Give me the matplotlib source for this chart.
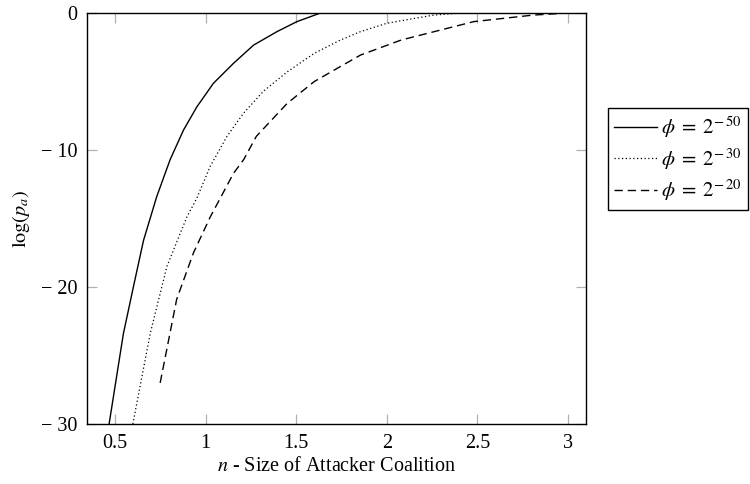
import matplotlib
matplotlib.use("Agg")
import matplotlib.pyplot as plt

plt.rcParams['font.family'] = ['Liberation Serif', 'DejaVu Serif']
plt.rcParams['mathtext.fontset'] = 'stix'

# phi = 2^-50
n_50 = [0.467, 0.546, 0.601, 0.657, 0.73, 0.804, 0.878, 0.952, 1.043, 1.154, 1.265,
        1.394, 1.504, 1.634, 1.70]
p_50 = [-30.0, -23.4, -20.0, -16.6, -13.4, -10.7, -8.54, -6.84, -5.13, -3.67, -2.34,
        -1.36, -0.63, 0.0, 0.3]

# phi = 2^-30
n_30 = [0.598, 0.694, 0.786, 0.896, 0.952, 1.025, 1.118, 1.21, 1.32, 1.45, 1.60,
        1.745, 1.855, 2.0, 2.26, 2.41, 2.5]
p_30 = [-30.0, -23.4, -18.5, -14.9, -13.5, -11.2, -9.0, -7.3, -5.7, -4.3, -2.94,
        -1.97, -1.36, -0.75, -0.15, 0.0, 0.1]

# phi = 2^-20
n_20 = [0.749, 0.84, 0.933, 1.025, 1.154, 1.21, 1.28, 1.45, 1.60, 1.745, 1.855,
        2.08, 2.48, 2.81, 3.0, 3.1]
p_20 = [-27.0, -20.9, -17.5, -14.9, -11.7, -10.7, -9.0, -6.6, -5.0, -3.9, -3.07,
        -1.97, -0.63, -0.15, 0.0, 0.05]

xticks = [0.5, 1, 1.5, 2, 2.5, 3]
xtick_labels = ['0.5', '1', '1.5', '2', '2.5', '3']
yticks = [-30, -20, -10, 0]
ytick_labels = ['\u2212 30', '\u2212 20', '\u2212 10', '0']

fig = plt.figure(figsize=(7.5, 4.84), dpi=100)
ax = fig.add_axes([87 / 750, 1 - 424 / 484, (586 - 87) / 750, (424 - 13) / 484])

ax.plot(n_50, p_50, color='black', lw=1.0, label=r'$\phi\;=\;2^{-\,50}$')
ax.plot(n_30, p_30, color='black', lw=0.9, linestyle=(0, (1, 2)), label=r'$\phi\;=\;2^{-\,30}$')
ax.plot(n_20, p_20, color='black', lw=1.0, linestyle=(0, (6, 3.5)), label=r'$\phi\;=\;2^{-\,20}$')

ax.set_xlim(0.345, 3.1)
ax.set_ylim(-30, 0)
ax.set_xticks(xticks)
ax.set_xticklabels(xtick_labels)
ax.set_yticks(yticks)
ax.set_yticklabels(ytick_labels)
ax.tick_params(direction='in', length=7, width=0.9, color='#b0b0b0',
               top=True, right=True, labelsize=14.5, pad=7)
for s in ax.spines.values():
    s.set_linewidth(1.0)

ax.set_xlabel(r'$n$ - Size of Attacker Coalition', fontsize=14.5, labelpad=3)
ax.set_ylabel(r'$\log(p_a)$', fontsize=14.5, labelpad=6)

leg = ax.legend(loc='upper left', bbox_to_anchor=(608 / 750, 1 - 108 / 484),
                bbox_transform=fig.transFigure, borderaxespad=0, fontsize=15,
                fancybox=False, edgecolor='black', framealpha=1,
                handlelength=2.05, handletextpad=0.2, labelspacing=0.3,
                borderpad=0.3)
leg.get_frame().set_linewidth(1.0)

fig.savefig('out.png', dpi=100)
